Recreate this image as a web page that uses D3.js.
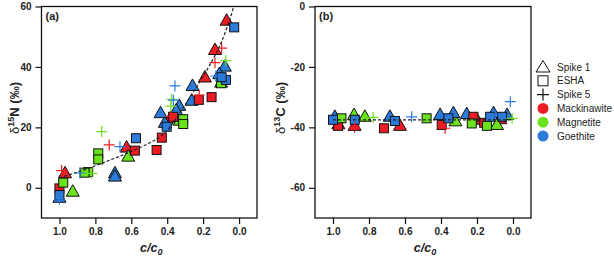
<!DOCTYPE html>
<html lang="en">
<head>
<meta charset="utf-8">
<title>d15N and d13C vs c/c0</title>
<script src="https://d3js.org/d3.v7.min.js"></script>
<style>
  body { margin: 0; background: #fff; }
  svg { font-family: "Liberation Sans", Arial, sans-serif; }
  .tick text { font-size: 10px; font-weight: bold; fill: #222; }
  .tick line { stroke: #111; stroke-width: 1.2; }
</style>
</head>
<body>
<script>
// ---- data ----
var minerals = ["Mackinawite", "Magnetite", "Goethite"];
var mineralColors = ["#ec1c24", "#6ae21c", "#2b7bdb"];
var xTicks = [1.0, 0.8, 0.6, 0.4, 0.2, 0.0];
var yTicksN = [0, 20, 40, 60];
var yTicksC = [-60, -40, -20, 0];

// panel (a) d15N, [c/c0, value]
var nSpike1Mack = [[0.069, 55.3], [0.134, 45.6], [0.19, 36.5], [0.38, 23.2], [0.626, 13.3], [0.969, 4.8]];
var nSpike1Mag = [[0.10, 34.8], [0.33, 22.2], [0.617, 10.3], [0.926, -1.3]];
var nSpike1Goe = [[0.079, 40.1], [0.11, 37.6], [0.259, 33.7], [0.264, 28.8], [0.333, 27.1], [0.35, 25.6],
                  [0.413, 21.5], [0.437, 24.7], [0.691, 4.8], [0.691, 3.7], [1.0, -3.3]];
var nEshaMack = [[0.153, 30.0], [0.224, 29.1], [0.367, 23.5], [0.43, 16.6], [0.459, 12.5], [0.58, 12.3], [1.0, -0.2]];
var nEshaMag = [[0.10, 34.6], [0.311, 22.7], [0.311, 21.1], [0.84, 5.2], [0.86, 5.0], [0.784, 11.4], [0.784, 9.4], [0.979, 1.7]];
var nEshaGoe = [[0.027, 53.1], [0.073, 35.7], [0.097, 36.6], [0.403, 20.2], [0.574, 16.4], [1.0, -2.4]];
var nSpike5Mack = [[0.097, 46.2], [0.134, 41.4], [0.222, 30.7], [0.38, 23.6], [0.723, 14.2], [0.988, 5.7]];
var nSpike5Mag = [[0.073, 42.1], [0.375, 29.3], [0.38, 27.0], [0.765, 18.6], [0.82, 4.8]];
var nSpike5Goe = [[0.129, 37.0], [0.357, 33.7], [0.365, 29.0], [0.663, 13.6], [0.886, 4.9], [1.0, -3.8]];
var nFitLine = [[1.0, 3.3], [0.9, 5.2], [0.8, 7.3], [0.7, 9.6], [0.6, 12.0], [0.5, 14.8], [0.45, 16.5],
                [0.4, 19.0], [0.35, 23.0], [0.3, 27.5], [0.22, 35.0], [0.15, 42.0], [0.10, 48.0],
                [0.05, 56.0], [0.03, 60.0]];

// panel (b) d13C
var cSpike1Mack = [[0.97, -39.0], [0.88, -39.5], [0.628, -39.5], [0.2, -37.5], [0.071, -37.3]];
var cSpike1Mag = [[0.883, -35.9], [0.823, -36.5], [0.32, -38.0], [0.089, -39.2]];
var cSpike1Goe = [[0.99, -36.5], [0.684, -36.5], [0.405, -35.9], [0.331, -35.3], [0.257, -35.6], [0.108, -35.3], [0.033, -35.9]];
var cEshaMack = [[0.972, -39.5], [0.717, -40.3], [0.396, -39.2], [0.22, -36.5], [0.16, -38.5]];
var cEshaMag = [[0.953, -37.0], [0.48, -37.0], [0.229, -38.7], [0.145, -39.5]];
var cEshaGoe = [[1.0, -37.5], [0.879, -37.5], [0.656, -37.9], [0.359, -37.0], [0.127, -36.5], [0.06, -36.5]];
var cSpike5Mack = [[0.88, -40.0], [0.377, -40.3]];
var cSpike5Mag = [[0.777, -36.7], [0.005, -37.0]];
var cSpike5Goe = [[0.563, -36.5], [0.10, -36.0], [0.015, -31.5]];
var cFitLine = [[1.0, -37.5], [0.0, -37.5]];

var legendItems = ["Spike 1", "ESHA", "Spike 5"].concat(minerals);

// ---- drawing ----
var width = 614, height = 264;
var svg = d3.select("body").append("svg")
    .attr("width", width)
    .attr("height", height);

var triPath = "M0,-7L6.5,4.5L-6.5,4.5Z";

function drawPanel(opt) {
    var x = d3.scaleLinear().domain([1.1, -0.1]).range([opt.left, opt.right]);
    var y = d3.scaleLinear().domain(opt.yDomain).range([218, 6.5]);
    var g = svg.append("g");

    g.append("g")
        .attr("transform", "translate(0,218)")
        .call(d3.axisBottom(x).tickValues(xTicks).tickSize(6).tickPadding(4)
              .tickFormat(d3.format(".1f")))
        .call(function(s) { s.select(".domain").remove(); });
    g.append("g")
        .attr("transform", "translate(" + opt.left + ",0)")
        .call(d3.axisLeft(y).tickValues(opt.yTicks).tickSize(6).tickPadding(4)
              .tickFormat(function(d) { return String(d); }))
        .call(function(s) { s.select(".domain").remove(); });

    g.append("rect")
        .attr("x", opt.left).attr("y", 6.5)
        .attr("width", opt.right - opt.left).attr("height", 218 - 6.5)
        .attr("fill", "none").attr("stroke", "#111").attr("stroke-width", 1.3);

    var marks = g.append("g");
    opt.tri.forEach(function(pts, i) {
        marks.selectAll(null).data(pts).enter().append("path")
            .attr("d", triPath)
            .attr("transform", function(d) { return "translate(" + x(d[0]) + "," + y(d[1]) + ")"; })
            .attr("fill", mineralColors[i]).attr("stroke", "#111").attr("stroke-width", 1);
    });
    opt.sq.forEach(function(pts, i) {
        marks.selectAll(null).data(pts).enter().append("rect")
            .attr("x", function(d) { return x(d[0]) - 4.5; })
            .attr("y", function(d) { return y(d[1]) - 4.5; })
            .attr("width", 9).attr("height", 9)
            .attr("fill", mineralColors[i]).attr("stroke", "#111").attr("stroke-width", 1);
    });
    opt.cross.forEach(function(pts, i) {
        marks.selectAll(null).data(pts).enter().append("path")
            .attr("d", "M-5.5,0H5.5M0,-5.5V5.5")
            .attr("transform", function(d) { return "translate(" + x(d[0]) + "," + y(d[1]) + ")"; })
            .attr("fill", "none").attr("stroke", mineralColors[i]).attr("stroke-width", 1.2);
    });

    g.append("path")
        .datum(opt.fit)
        .attr("d", d3.line().x(function(d) { return x(d[0]); }).y(function(d) { return y(d[1]); })
              .curve(d3.curveCatmullRom))
        .attr("fill", "none").attr("stroke", "#222").attr("stroke-width", 1.2)
        .attr("stroke-dasharray", "3,2");

    g.append("text")
        .attr("x", opt.left + 4).attr("y", 20)
        .attr("font-size", 11).attr("font-weight", "bold").attr("fill", "#222")
        .text(opt.tag);

    var xl = g.append("text")
        .attr("x", (opt.left + opt.right) / 2 + 2).attr("y", 252)
        .attr("text-anchor", "middle")
        .attr("font-size", 12.5).attr("font-weight", "bold").attr("font-style", "italic").attr("fill", "#222");
    xl.append("tspan").text("c/c");
    xl.append("tspan").attr("dy", 3).attr("font-size", 9).text("0");

    var yl = g.append("text")
        .attr("transform", "translate(" + opt.ylx + ",108) rotate(-90)")
        .attr("text-anchor", "middle")
        .attr("font-size", 13).attr("font-weight", "bold").attr("fill", "#222");
    yl.append("tspan").attr("font-weight", "normal").text("δ");
    yl.append("tspan").attr("dy", -5).attr("font-size", 9).text(opt.iso);
    yl.append("tspan").attr("dy", 5).text(opt.elem + " (‰)");
}

drawPanel({
    left: 41.5, right: 257, yDomain: [-10, 60], yTicks: yTicksN, tag: "(a)",
    ylx: 19, iso: "15", elem: "N",
    tri: [nSpike1Mack, nSpike1Mag, nSpike1Goe],
    sq: [nEshaMack, nEshaMag, nEshaGoe],
    cross: [nSpike5Mack, nSpike5Mag, nSpike5Goe],
    fit: nFitLine
});
drawPanel({
    left: 315, right: 531, yDomain: [-70, 0], yTicks: yTicksC, tag: "(b)",
    ylx: 285, iso: "13", elem: "C",
    tri: [cSpike1Mack, cSpike1Mag, cSpike1Goe],
    sq: [cEshaMack, cEshaMag, cEshaGoe],
    cross: [cSpike5Mack, cSpike5Mag, cSpike5Goe],
    fit: cFitLine
});

// legend
var leg = svg.append("g").attr("transform", "translate(543,67)");
var row = leg.selectAll("g").data(legendItems).enter().append("g")
    .attr("transform", function(d, i) { return "translate(0," + (i * 13.8) + ")"; });
row.each(function(d, i) {
    var r = d3.select(this);
    if (i === 0) {
        r.append("path").attr("d", "M0,-6.5L7,5L-7,5Z").attr("fill", "#fff").attr("stroke", "#111").attr("stroke-width", 1);
    } else if (i === 1) {
        r.append("rect").attr("x", -5).attr("y", -5).attr("width", 10).attr("height", 10)
            .attr("fill", "#fff").attr("stroke", "#111").attr("stroke-width", 1);
    } else if (i === 2) {
        r.append("path").attr("d", "M-6,0H6M0,-6V6").attr("stroke", "#111").attr("stroke-width", 1.2);
    } else {
        r.append("circle").attr("r", 5.5).attr("fill", mineralColors[i - 3]);
    }
    r.append("text").attr("x", 14).attr("dy", "0.35em")
        .attr("font-size", 10).attr("fill", "#222").text(d);
});
</script>
</body>
</html>
